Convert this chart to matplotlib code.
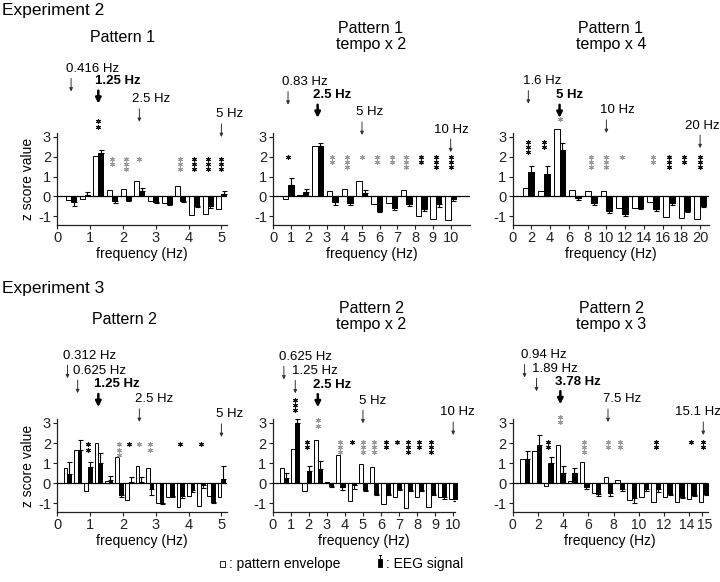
import numpy as np
import matplotlib
matplotlib.use('Agg')
import matplotlib.pyplot as plt
import matplotlib.transforms as mtransforms
from matplotlib.patches import Rectangle
from matplotlib.lines import Line2D

plt.rcParams['font.family'] = ['Liberation Sans', 'DejaVu Sans']
plt.rcParams['axes.unicode_minus'] = False

# ---- datos: frecuencias de cada panel (Hz) ----
freq1 = [0.42, 0.83, 1.25, 1.67, 2.08, 2.5, 2.92, 3.33, 3.75, 4.17, 4.58, 5.0]
freq2 = [0.83, 1.67, 2.5, 3.33, 4.17, 5.0, 5.83, 6.67, 7.5, 8.33, 9.17, 10.0]
freq3 = [1.67, 3.33, 5.0, 6.67, 8.33, 10.0, 11.67, 13.33, 15.0, 16.67, 18.33, 20.0]
freq4 = [0.31, 0.62, 0.94, 1.25, 1.56, 1.88, 2.19, 2.5, 2.81, 3.12, 3.44, 3.75, 4.06, 4.38, 4.69, 5.0]
freq5 = [0.62, 1.25, 1.88, 2.5, 3.12, 3.75, 4.38, 5.0, 5.62, 6.25, 6.88, 7.5, 8.12, 8.75, 9.38, 10.0]
freq6 = [0.94, 1.89, 2.83, 3.78, 4.72, 5.67, 6.61, 7.56, 8.5, 9.45, 10.39, 11.34, 12.28, 13.23, 14.17, 15.12]

# z score: envolvente del patron (barras blancas), EEG (negras) y error del EEG
env1 = [-0.2, -0.12, 2.02, 0.3, 0.39, 0.79, -0.22, -0.32, 0.5, -0.93, -0.88, -0.64]
eeg1 = [-0.3, 0.05, 2.19, -0.24, -0.17, 0.25, -0.3, -0.37, -0.22, -0.5, -0.5, 0.13]
err1 = [0.18, 0.15, 0.15, 0.1, 0.05, 0.18, 0.05, 0.04, 0.05, 0.05, 0.06, 0.15]

env2 = [-0.13, 0.05, 2.53, 0.25, 0.37, 0.75, -0.37, -0.32, 0.3, -1.0, -1.12, -1.2]
eeg2 = [0.58, 0.2, 2.53, -0.28, -0.33, 0.18, -0.72, -0.6, -0.37, -0.62, -0.38, -0.12]
err2 = [0.37, 0.18, 0.17, 0.17, 0.08, 0.15, 0.08, 0.07, 0.1, 0.1, 0.15, 0.1]

env3 = [0.4, 0.26, 3.4, 0.3, 0.26, 0.26, -0.6, -0.57, -0.3, -1.03, -1.08, -1.15]
eeg3 = [1.23, 1.15, 2.35, -0.08, -0.34, -0.72, -0.9, -0.57, -0.65, -0.35, -0.72, -0.48]
err3 = [0.3, 0.38, 0.35, 0.08, 0.1, 0.1, 0.08, 0.05, 0.08, 0.07, 0.07, 0.05]

env4 = [0.74, 1.64, -0.4, 2.0, 0.13, 1.31, -0.85, 0.87, 0.75, -0.98, -0.69, -1.18, -0.62, -1.13, -0.65, -0.69]
eeg4 = [0.46, 1.64, 0.79, 1.03, 0.18, -0.56, 0.07, 0.07, -0.3, -1.0, -0.65, -0.63, -0.33, -0.1, -0.93, 0.2]
err4 = [0.62, 0.5, 0.25, 0.47, 0.2, 0.13, 0.26, 0.23, 0.26, 0.05, 0.05, 0.1, 0.1, 0.15, 0.07, 0.67]

env5 = [0.76, 1.7, -0.4, 2.14, 0.08, 1.41, -0.89, 0.94, 0.81, -1.05, -0.7, -1.25, -0.7, -1.18, -0.7, -0.76]
eeg5 = [0.24, 3.0, 0.62, 0.73, -0.13, -0.19, -0.11, -0.32, -0.52, -0.52, -0.28, -0.32, -0.32, -0.53, -0.7, -0.76]
err5 = [0.28, 0.21, 0.24, 0.36, 0.06, 0.13, 0.19, 0.05, 0.08, 0.07, 0.06, 0.05, 0.05, 0.05, 0.07, 0.1]

env6 = [1.2, 1.58, -0.12, 1.88, 0.12, 1.08, -0.5, 0.33, 0.17, -0.83, -0.67, -0.92, -0.67, -0.92, -0.78, -0.92]
eeg6 = [1.2, 1.92, 1.0, 0.5, 0.53, -0.17, -0.55, -0.5, -0.3, -0.75, -0.3, -0.28, -0.55, -0.67, -0.58, -0.55]
err6 = [0.42, 0.5, 0.33, 0.37, 0.25, 0.13, 0.06, 0.13, 0.1, 0.22, 0.1, 0.15, 0.05, 0.05, 0.05, 0.05]

# asteriscos: indice de bin, numero de *, negro (1) o gris (0), altura del primero
stars1 = ([2, 3, 4, 5, 8, 9, 10, 11], [2, 2, 3, 1, 3, 3, 3, 3], [1, 0, 0, 0, 0, 1, 1, 1],
          [3.76, 1.9, 1.9, 1.9, 1.9, 1.9, 1.9, 1.9])
stars2 = ([0, 3, 4, 5, 6, 7, 8, 9, 10, 11], [1, 2, 3, 1, 2, 2, 3, 2, 3, 3],
          [1, 0, 0, 0, 0, 0, 0, 1, 1, 1], [2.0] * 10)
stars3 = ([0, 1, 2, 4, 5, 6, 8, 9, 10, 11], [3, 2, 1, 3, 3, 1, 2, 3, 2, 3],
          [1, 1, 0, 0, 0, 0, 0, 1, 1, 1], [2.75, 2.75, 3.86, 2.0, 2.0, 2.0, 2.0, 2.0, 2.0, 2.0])
stars4 = ([2, 5, 6, 7, 8, 11, 13], [2, 3, 1, 1, 2, 1, 1], [1, 0, 1, 0, 0, 1, 1], [1.93] * 7)
stars5 = ([1, 2, 3, 5, 6, 7, 8, 9, 10, 11, 12, 13], [3, 2, 2, 3, 1, 3, 3, 2, 1, 3, 2, 3],
          [1, 1, 0, 0, 1, 0, 0, 1, 1, 1, 1, 1], [4.16, 2.07, 3.13] + [2.07] * 9)
stars6 = ([2, 3, 5, 7, 8, 11, 14, 15], [2, 2, 3, 2, 2, 2, 1, 2], [1, 0, 0, 0, 0, 1, 1, 1],
          [2.05, 3.3, 2.05, 2.05, 2.05, 2.05, 2.05, 2.05])

# flechas: frecuencia, texto, negrita, altura de la punta, desplazamiento del texto (px)
arrows1 = [(0.42, '0.416 Hz', False, 5.26, -5), (1.25, '1.25 Hz', True, 4.65, -3),
           (2.5, '2.5 Hz', False, 3.74, -7), (5.0, '5 Hz', False, 2.98, -5)]
arrows2 = [(0.83, '0.83 Hz', False, 4.6, -6), (2.5, '2.5 Hz', True, 3.94, -5),
           (5.0, '5 Hz', False, 3.08, -6), (10.0, '10 Hz', False, 2.22, -17)]
arrows3 = [(1.67, '1.6 Hz', False, 4.65, -5), (5.0, '5 Hz', True, 3.94, -4),
           (10.0, '10 Hz', False, 3.18, -6), (20.0, '20 Hz', False, 2.42, -15)]
arrows4 = [(0.31, '0.312 Hz', False, 5.22, -4), (0.62, '0.625 Hz', False, 4.48, -5),
           (1.25, '1.25 Hz', True, 3.79, -4), (2.5, '2.5 Hz', False, 3.05, -4),
           (5.0, '5 Hz', False, 2.3, -5)]
arrows5 = [(0.62, '0.625 Hz', False, 5.16, -5), (1.25, '1.25 Hz', False, 4.47, -3),
           (2.5, '2.5 Hz', True, 3.78, -5), (5.0, '5 Hz', False, 2.98, -4),
           (10.0, '10 Hz', False, 2.4, -13)]
arrows6 = [(0.94, '0.94 Hz', False, 5.26, -4), (1.89, '1.89 Hz', False, 4.57, -5),
           (3.78, '3.78 Hz', True, 3.93, -5), (7.56, '7.5 Hz', False, 3.04, -5),
           (15.12, '15.1 Hz', False, 2.4, -28)]

titles = ['Pattern 1', 'Pattern 1\ntempo x 2', 'Pattern 1\ntempo x 4',
          'Pattern 2', 'Pattern 2\ntempo x 2', 'Pattern 2\ntempo x 3']
xticks = [[0, 1, 2, 3, 4, 5], list(range(11)), list(range(0, 21, 2)),
          [0, 1, 2, 3, 4, 5], list(range(11)), [0, 2, 4, 6, 8, 10, 12, 14, 15]]

W, H = 720, 582
fig = plt.figure(figsize=(W / 100, H / 100), dpi=100)


def px_axes(l, t, r, b):
    return fig.add_axes([l / W, 1 - b / H, (r - l) / W, (b - t) / H])


def draw_panel(ax, freqs, env, eeg, err, stars, arrows, xmax, ticks, ylabel):
    freqs = np.array(freqs)
    w = 0.37 * (freqs[1] - freqs[0])
    eeg = np.array(eeg)
    err = np.array(err)
    lo = np.where(eeg < 0, err, 0)
    hi = np.where(eeg >= 0, err, 0)
    ax.errorbar(freqs + w / 2, eeg, yerr=[lo, hi], fmt='none', ecolor='black',
                elinewidth=0.8, capsize=1.8, capthick=0.8, zorder=1)
    ax.bar(freqs - w / 2, env, width=w, color='white', edgecolor='black',
           linewidth=0.7, zorder=2, clip_on=False)
    ax.bar(freqs + w / 2, eeg, width=w, color='black', edgecolor='black',
           linewidth=0.7, zorder=2, clip_on=False)
    ax.axhline(0, color='black', lw=0.9, zorder=3)

    for b, n, dark, top in zip(*stars):
        ys = [top - 0.26 * i for i in range(n)]
        ax.plot([freqs[b]] * n, ys, ls='none', marker=(6, 2, 0), ms=3.3, mew=0.8,
                color='#111111' if dark else '#9a9a9a', clip_on=False, zorder=4)

    for f, lbl, bold, tip, dx in arrows:
        if bold:
            props = dict(arrowstyle='-|>', lw=1.8, color='black', shrinkA=0, shrinkB=0,
                         mutation_scale=8)
        else:
            props = dict(arrowstyle='-|>', lw=0.7, color='#333333', shrinkA=0, shrinkB=0,
                         mutation_scale=5)
        ax.annotate('', xy=(f, tip), xytext=(0, 9.4), textcoords='offset points',
                    arrowprops=props, annotation_clip=False)
        ax.annotate(lbl, xy=(f, tip), xytext=(dx * 0.72, 16.3), textcoords='offset points',
                    ha='left', va='center', fontsize=9.5,
                    fontweight='bold' if bold else 'normal', annotation_clip=False)

    ax.set_xlim(0, xmax)
    ax.set_ylim(-1.43, 3.18)
    ax.set_xticks(ticks)
    ax.set_yticks([-1, 0, 1, 2, 3])
    for s in ['top', 'right']:
        ax.spines[s].set_visible(False)
    for s in ['left', 'bottom']:
        ax.spines[s].set_color('#222222')
        ax.spines[s].set_linewidth(0.9)
    ax.tick_params(direction='out', length=3, width=0.8, labelsize=10.5, pad=1.5,
                   colors='#222222')
    ax.set_xlabel('frequency (Hz)', fontsize=10, labelpad=1)
    if ylabel:
        ax.set_ylabel('z score value', fontsize=10, labelpad=2)


axes = [px_axes(57.3, 133, 227, 225), px_axes(273.3, 133, 470, 225),
        px_axes(512.7, 133, 709, 225), px_axes(57.3, 419.3, 227, 512),
        px_axes(272.7, 419.3, 455, 512), px_axes(512.7, 419.3, 707.7, 512)]

draw_panel(axes[0], freq1, env1, eeg1, err1, stars1, arrows1, 5.17, xticks[0], True)
draw_panel(axes[1], freq2, env2, eeg2, err2, stars2, arrows2, 11.09, xticks[1], False)
draw_panel(axes[2], freq3, env3, eeg3, err3, stars3, arrows3, 20.95, xticks[2], False)
draw_panel(axes[3], freq4, env4, eeg4, err4, stars4, arrows4, 5.17, xticks[3], True)
draw_panel(axes[4], freq5, env5, eeg5, err5, stars5, arrows5, 10.1, xticks[4], False)
draw_panel(axes[5], freq6, env6, eeg6, err6, stars6, arrows6, 15.47, xticks[5], False)

# en el ultimo panel "14" y "15" van muy juntos: se aprietan un poco
labels6 = axes[5].get_xticklabels()
for lab in labels6:
    lab.set_fontsize(10)
for lab, shift in ((labels6[-2], -2.0), (labels6[-1], 2.0)):
    lab.set_transform(lab.get_transform() +
                      mtransforms.ScaledTranslation(shift / 72, 0, fig.dpi_scale_trans))

# titulos
fig.text(2 / W, 1 - 11 / H, 'Experiment 2', ha='left', va='center', fontsize=12.5)
fig.text(2 / W, 1 - 288 / H, 'Experiment 3', ha='left', va='center', fontsize=12.5)
title_pos = [(123, 38), (371, 36.5), (611, 36.5), (124, 319), (371, 316.5), (611, 316.5)]
for (x, y), t in zip(title_pos, titles):
    fig.text(x / W, 1 - y / H, t, ha='center', va='center', fontsize=11.5, linespacing=1.08)

# leyenda
fig.add_artist(Rectangle((220 / W, 1 - 567 / H), 4.5 / W, 6 / H, transform=fig.transFigure,
                         facecolor='white', edgecolor='black', lw=0.6))
fig.add_artist(Rectangle((377.5 / W, 1 - 567 / H), 4.5 / W, 8 / H, transform=fig.transFigure,
                         facecolor='black', edgecolor='black', lw=0.6))
fig.add_artist(Line2D([379.7 / W, 379.7 / W], [1 - 559 / H, 1 - 555 / H],
                      transform=fig.transFigure, color='black', lw=0.7))
fig.add_artist(Line2D([378.7 / W, 380.7 / W], [1 - 555 / H, 1 - 555 / H],
                      transform=fig.transFigure, color='black', lw=0.7))
fig.text(229 / W, 1 - 564 / H, ': pattern envelope', ha='left', va='center', fontsize=10)
fig.text(386 / W, 1 - 564 / H, ': EEG signal', ha='left', va='center', fontsize=10)

fig.savefig('out.png', dpi=100)
